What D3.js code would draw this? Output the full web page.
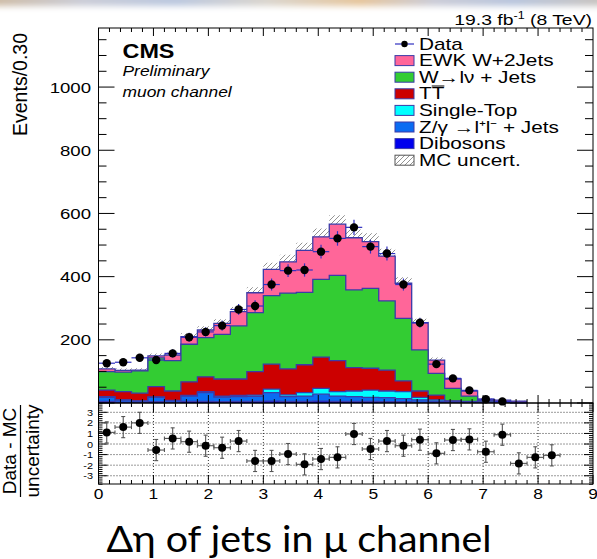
<!DOCTYPE html>
<html>
<head>
<meta charset="utf-8">
<script src="https://cdn.jsdelivr.net/npm/d3@7"></script>
<style>
  html, body { margin: 0; padding: 0; background: #fff; }
  svg { display: block; }
</style>
</head>
<body>
<script>
// Δη(jj) distribution, muon channel, 19.3 fb^-1 at 8 TeV. Bin width 0.30.
const binLow = [0.0, 0.3, 0.6, 0.9, 1.2, 1.5, 1.8, 2.1, 2.4, 2.7, 3.0, 3.3, 3.6, 3.9,
                4.2, 4.5, 4.8, 5.1, 5.4, 5.7, 6.0, 6.3, 6.6, 6.9, 7.2, 7.5, 7.8, 8.1];
const binWidth = 0.3;

// Simulated contributions per bin (events), stacked bottom to top
const dibosons = [5, 3, 2, 4, 2, 5, 5, 4, 5, 5, 6, 5, 5, 6, 5, 5, 5, 4, 4, 3, 2, 2, 2, 2, 2, 1, 0, 0];
const zJets    = [13, 6, 4, 14, 5, 17, 28, 15, 15, 16, 27, 15, 17, 22, 17, 15, 13, 13, 10, 7, 4, 2, 1, 0, 0, 0, 0, 0];
const singleTop= [2, 1, 1, 1, 1, 2, 3, 3, 4, 4, 11, 6, 11, 18, 14, 18, 23, 21, 22, 8, 4, 1, 1, 1, 0, 0, 0, 0];
const ttbar    = [21, 26, 24, 33, 30, 43, 47, 54, 52, 74, 79, 82, 88, 99, 98, 74, 69, 66, 34, 20, 15, 2, 1, 0, 0, 0, 0, 0];
const wJets    = [58, 62, 71, 91, 96, 119, 124, 141, 168, 187, 217, 240, 229, 246, 270, 246, 253, 219, 198, 130, 69, 39, 17, 5, 3, 2, 0, 0];
const ewkW2j   = [9, 5, 2, 6, 18, 24, 24, 35, 45, 63, 83, 99, 133, 135, 162, 165, 148, 142, 111, 86, 42, 30, 16, 4, 4, 3, 0, 0];

// Half-width of the MC uncertainty band per bin
const mcUnc    = [6, 6, 6, 8, 8, 11, 12, 13, 15, 17, 21, 22, 24, 26, 28, 26, 26, 23, 19, 13, 8, 5, 3, 2, 2, 1, 0, 0];

// Observed events and their statistical errors
const dataCounts = [126, 129, 143, 136, 157, 208, 225, 245, 296, 307, 375, 419, 421, 479, 521, 556, 495, 473, 375, 254, 123, 78, 40, 12, 5, 0, 0, 0];
const dataErr    = [11, 11, 12, 12, 13, 14, 15, 16, 17, 18, 19, 20, 21, 22, 23, 24, 22, 22, 19, 16, 11, 9, 6, 3, 2, 0, 0, 0];

// (Data - MC) / uncertainty
const pull    = [1.1, 1.6, 2.0, -0.57, 0.53, 0.22, -0.16, -0.35, 0.28, -1.6, -1.6, -0.95, -1.92, -1.42,
                 -1.26, 0.95, -0.47, 0.28, -0.16, 0.41, -0.88, 0.38, 0.44, -0.73, 0.88, -1.83, -1.26, -1.07];
const pullErr = [1, 1, 1, 1, 1, 1, 1, 1, 1, 1, 1, 1, 1, 1, 1, 1, 1, 1, 1, 1, 1, 1, 1, 1, 1, 1, 1, 1];

const mainTicks  = [200, 400, 600, 800, 1000];
const pullTicks  = [3, 2, 1, 0, -1, -2, -3];
const xTickVals  = [0, 1, 2, 3, 4, 5, 6, 7, 8, 9];

const samples = [
  { key: "dib", label: "Dibosons",      values: dibosons,  color: "#0000ee" },
  { key: "z",   label: "Z/γ →l⁺l⁻ + Jets", values: zJets, color: "#0a6cf2" },
  { key: "st",  label: "Single-Top",    values: singleTop, color: "#00ffff" },
  { key: "tt",  label: "TT",            values: ttbar,     color: "#cc0000" },
  { key: "w",   label: "W→lν + Jets",   values: wJets,     color: "#33cc33" },
  { key: "ewk", label: "EWK W+2Jets",   values: ewkW2j,    color: "#ff6699" }
];

const W = 597, H = 559;
const FONT = "'Liberation Sans', Arial, Helvetica, sans-serif";
const SX = 1.22;            // horizontal stretch of the canvas text
const outline = "#3b3ba8";

const svg = d3.select("body").append("svg").attr("width", W).attr("height", H);
const defs = svg.append("defs");

// hatch for the MC uncertainty
const pat = defs.append("pattern").attr("id", "hatch").attr("patternUnits", "userSpaceOnUse")
  .attr("width", 5).attr("height", 5);
pat.append("path").attr("d", "M-1,1 l2,-2 M0,5 l5,-5 M4,6 l2,-2")
  .attr("stroke", "#777").attr("stroke-width", 0.8);

// soft coloured strip along the top edge
const blur = defs.append("filter").attr("id", "soft").attr("x", "-10%").attr("y", "-100%")
  .attr("width", "120%").attr("height", "300%");
blur.append("feGaussianBlur").attr("stdDeviation", 3);
const grad = defs.append("linearGradient").attr("id", "strip");
[["0%", "#cdb9a0"], ["15%", "#c9cbd6"], ["30%", "#b9c6de"], ["45%", "#d9d4cc"], ["60%", "#e5c49a"],
 ["72%", "#c9cad6"], ["85%", "#b7c4dc"], ["100%", "#c8c2bc"]]
  .forEach(([o, c]) => grad.append("stop").attr("offset", o).attr("stop-color", c));
svg.append("rect").attr("x", -10).attr("y", -6).attr("width", W + 20).attr("height", 12)
  .attr("fill", "url(#strip)").attr("filter", "url(#soft)");

// scales
const x = d3.scaleLinear().domain([0, 9]).range([98.5, 593]);
const yMain = d3.scaleLinear().domain([0, 1187]).range([403, 28]);
const yPull = d3.scaleLinear().domain([-3.78, 3.88]).range([484, 403]);

function txt(parent, px, py, str, o = {}) {
  const g = parent.append("g")
    .attr("transform", `translate(${px},${py}) ${o.rotate ? `rotate(${o.rotate})` : ""} scale(${o.sx ?? SX},1)`);
  const t = g.append("text")
    .attr("font-family", o.family || FONT)
    .attr("font-size", o.size || 15)
    .attr("text-anchor", o.anchor || "start")
    .attr("fill", o.fill || "#000");
  if (o.weight) t.attr("font-weight", o.weight);
  if (o.italic) t.attr("font-style", "italic");
  if (str !== null) t.text(str);
  return t;
}

// ---------- main panel ----------
const main = svg.append("g");

// stacked layers
const rows = binLow.map((lo, i) => {
  const r = { lo };
  samples.forEach(s => r[s.key] = s.values[i]);
  return r;
});
const stacked = d3.stack().keys(samples.map(s => s.key))(rows);

function stepPoints(layer) {
  const pts = [];
  layer.forEach((d, i) => {
    pts.push({ x: binLow[i], y0: d[0], y1: d[1] });
    pts.push({ x: binLow[i] + binWidth, y0: d[0], y1: d[1] });
  });
  return pts;
}
const area = d3.area().x(d => x(d.x)).y0(d => yMain(d.y0)).y1(d => yMain(d.y1));
const topLine = d3.line().x(d => x(d.x)).y(d => yMain(d.y1));

// uncertainty band around the total, underneath the stack
const total = stacked[stacked.length - 1].map(d => d[1]);
const bandPts = [];
binLow.forEach((lo, i) => {
  const b = { y0: Math.max(0, total[i] - mcUnc[i]), y1: total[i] + mcUnc[i] };
  bandPts.push({ x: lo, ...b }, { x: lo + binWidth, ...b });
});
main.append("path").attr("d", area(bandPts.slice(0, 52))).attr("fill", "url(#hatch)");

stacked.slice().reverse().forEach(layer => {
  const s = samples.find(q => q.key === layer.key);
  const pts = stepPoints(layer).slice(0, 52).map(p => ({ x: p.x, y0: 0, y1: p.y1 }));
  main.append("path").attr("d", area(pts)).attr("fill", s.color);
  main.append("path").attr("d", topLine(pts)).attr("fill", "none")
    .attr("stroke", outline).attr("stroke-width", 1.3);
});

// data points
const dataG = main.append("g");
dataCounts.forEach((n, i) => {
  if (n <= 0) return;
  const cx = x(binLow[i] + binWidth / 2), cy = yMain(n);
  dataG.append("line").attr("x1", x(binLow[i])).attr("x2", x(binLow[i] + binWidth))
    .attr("y1", cy).attr("y2", cy).attr("stroke", "#3030c0").attr("stroke-width", 1.2);
  dataG.append("line").attr("x1", cx).attr("x2", cx)
    .attr("y1", yMain(n - dataErr[i])).attr("y2", yMain(n + dataErr[i]))
    .attr("stroke", "#3030c0").attr("stroke-width", 1.2);
  dataG.append("circle").attr("cx", cx).attr("cy", cy).attr("r", 4.2).attr("fill", "#000");
});

// frame and ticks of main panel
main.append("rect").attr("x", x(0)).attr("y", 28).attr("width", x(9) - x(0)).attr("height", 403 - 28)
  .attr("fill", "none").attr("stroke", "#000").attr("stroke-width", 1);

const tickG = svg.append("g").attr("stroke", "#000").attr("stroke-width", 1);
d3.range(0, 1187, 50).forEach(v => {
  const major = v % 200 === 0;
  const len = major ? 16 : 8, yy = yMain(v);
  tickG.append("line").attr("x1", x(0)).attr("x2", x(0) + len).attr("y1", yy).attr("y2", yy);
  tickG.append("line").attr("x1", x(9)).attr("x2", x(9) - len).attr("y1", yy).attr("y2", yy);
});
d3.range(0, 45).forEach(k => {
  const v = k * 0.2, major = k % 5 === 0;
  const len = major ? 8 : 4, xx = x(v);
  tickG.append("line").attr("x1", xx).attr("x2", xx).attr("y1", 28).attr("y2", 28 + len);
  tickG.append("line").attr("x1", xx).attr("x2", xx).attr("y1", 403).attr("y2", 403 - len);
});

mainTicks.forEach(v => txt(svg, 91, yMain(v) + 5.5, String(v), { size: 15.5, anchor: "end", sx: 1.2 }));
txt(svg, 26.5, 33, "Events/0.30", { size: 19.5, anchor: "end", rotate: -90, sx: 1 });

// ---------- ratio panel ----------
const pullG = svg.append("g");
const grid = pullG.append("g").attr("stroke", "#000").attr("stroke-width", 0.8).attr("stroke-dasharray", "1,2");
pullTicks.forEach(v => grid.append("line").attr("x1", x(0)).attr("x2", x(9)).attr("y1", yPull(v)).attr("y2", yPull(v)));
xTickVals.slice(1, -1).forEach(v => grid.append("line").attr("x1", x(v)).attr("x2", x(v)).attr("y1", 403).attr("y2", 484));

d3.range(-3.8, 3.9, 0.2).forEach(v => {
  const major = Math.abs(v - Math.round(v)) < 1e-6;
  const len = major ? 9 : 4, yy = yPull(v);
  tickG.append("line").attr("x1", x(0)).attr("x2", x(0) + len).attr("y1", yy).attr("y2", yy);
  tickG.append("line").attr("x1", x(9)).attr("x2", x(9) - len).attr("y1", yy).attr("y2", yy);
});
d3.range(0, 46).forEach(k => {
  const v = k * 0.2, major = k % 5 === 0;
  const len = major ? 9 : 4, xx = x(v);
  tickG.append("line").attr("x1", xx).attr("x2", xx).attr("y1", 484).attr("y2", 484 - len);
  tickG.append("line").attr("x1", xx).attr("x2", xx).attr("y1", 403).attr("y2", 403 + len);
});

const pts = pullG.append("g");
pull.forEach((p, i) => {
  const cx = x(binLow[i] + binWidth / 2), cy = yPull(p);
  const lo = yPull(p - pullErr[i]), hi = yPull(p + pullErr[i]);
  const xl = x(binLow[i]), xr = x(binLow[i] + binWidth);
  const g = pts.append("g").attr("stroke", "#555").attr("stroke-width", 1.1);
  g.append("line").attr("x1", xl).attr("x2", xr).attr("y1", cy).attr("y2", cy);
  g.append("line").attr("x1", cx).attr("x2", cx).attr("y1", lo).attr("y2", hi);
  g.append("line").attr("x1", cx - 2).attr("x2", cx + 2).attr("y1", lo).attr("y2", lo);
  g.append("line").attr("x1", cx - 2).attr("x2", cx + 2).attr("y1", hi).attr("y2", hi);
  g.append("line").attr("x1", xl).attr("x2", xl).attr("y1", cy - 2).attr("y2", cy + 2);
  g.append("line").attr("x1", xr).attr("x2", xr).attr("y1", cy - 2).attr("y2", cy + 2);
  pts.append("circle").attr("cx", cx).attr("cy", cy).attr("r", 4).attr("fill", "#000");
});

pullG.append("rect").attr("x", x(0)).attr("y", 403).attr("width", x(9) - x(0)).attr("height", 81)
  .attr("fill", "none").attr("stroke", "#000").attr("stroke-width", 1);

pullTicks.forEach(v => txt(svg, 93, yPull(v) + 3.5, String(v), { size: 9.5, anchor: "end", sx: 1.15 }));
xTickVals.forEach(v => txt(svg, x(v), 499, String(v), { size: 14.5, anchor: "middle", sx: 1.2 }));

// ratio axis title (fraction)
txt(svg, 16, 451, "Data - MC", { size: 19, anchor: "middle", rotate: -90, sx: 1 });
txt(svg, 39, 451, "uncertainty", { size: 19, anchor: "middle", rotate: -90, sx: 1 });
svg.append("line").attr("x1", 20.5).attr("x2", 20.5).attr("y1", 405).attr("y2", 497)
  .attr("stroke", "#000").attr("stroke-width", 1.2);

// ---------- annotations ----------
const lumi = txt(svg, 592, 24.5, null, { size: 15.5, anchor: "end", sx: 1.25 });
lumi.append("tspan").text("19.3 fb");
lumi.append("tspan").attr("font-size", 10).attr("dy", -6).text("-1");
lumi.append("tspan").attr("dy", 6).text(" (8 TeV)");

txt(svg, 122.5, 58, "CMS", { size: 19.5, weight: "bold", sx: 1.2 });
txt(svg, 122.5, 76, "Preliminary", { size: 14.5, italic: true, sx: 1.2 });
txt(svg, 122.5, 97, "muon channel", { size: 14.5, italic: true, sx: 1.2 });

// ---------- legend ----------
const leg = svg.append("g");
const legRows = [
  { type: "data", label: "Data" },
  ...samples.slice().reverse().map(s => ({ type: "box", label: s.label, color: s.color })),
  { type: "unc", label: "MC uncert." }
];
legRows.forEach((r, k) => {
  const cy = 44 + k * 16.6;
  if (r.type === "data") {
    leg.append("line").attr("x1", 395).attr("x2", 414).attr("y1", cy).attr("y2", cy)
      .attr("stroke", "#3030c0").attr("stroke-width", 1.2);
    leg.append("circle").attr("cx", 404.5).attr("cy", cy).attr("r", 3.2).attr("fill", "#000");
  } else {
    leg.append("rect").attr("x", 395).attr("y", cy - 5).attr("width", 19).attr("height", 10)
      .attr("fill", r.type === "unc" ? "url(#hatch)" : r.color)
      .attr("stroke", r.type === "unc" ? "#555" : outline).attr("stroke-width", 1);
  }
  txt(leg, 419, cy + 5.5, r.label, { size: 16, sx: 1.3 });
  if (r.label === "TT") {
    // bar over the antiquark
    leg.append("line").attr("x1", 419 + 9.8 * 1.3).attr("x2", 419 + 19.5 * 1.3)
      .attr("y1", cy - 7.8).attr("y2", cy - 7.8).attr("stroke", "#000").attr("stroke-width", 1);
  }
});

// ---------- slide caption ----------
svg.append("text").attr("x", 299).attr("y", 552).attr("text-anchor", "middle")
  .attr("font-family", "Lato, 'Open Sans', sans-serif").attr("font-size", 37)
  .attr("textLength", 385).attr("lengthAdjust", "spacingAndGlyphs")
  .text("Δη of jets in μ channel");
</script>
</body>
</html>
